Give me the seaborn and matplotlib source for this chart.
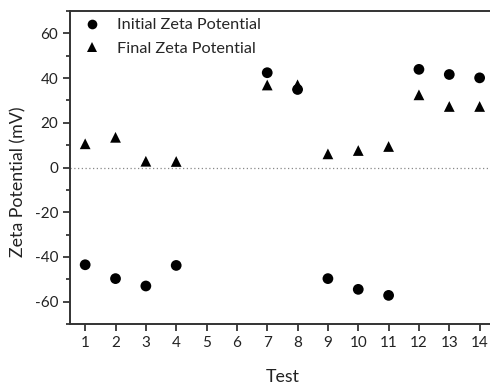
import numpy as np
import pandas as pd
import matplotlib
matplotlib.use("Agg")
import matplotlib.pyplot as plt
import seaborn as sns
from matplotlib.ticker import MultipleLocator

tests_initial = [1, 2, 3, 4, 7, 8, 9, 10, 11, 12, 13, 14]
initial_zeta = [-43.5, -49.7, -53.0, -43.8, 42.4, 34.9, -49.7, -54.5, -57.2, 43.9, 41.6, 40.1]
tests_final = [1, 2, 3, 4, 7, 8, 9, 10, 11, 12, 13, 14]
final_zeta = [10.6, 13.5, 2.8, 2.7, 36.9, 37.0, 6.1, 7.6, 9.4, 32.5, 27.3, 27.3]
series_names = ["Initial Zeta Potential", "Final Zeta Potential"]
x_ticks = list(range(1, 15))

df = pd.concat([
    pd.DataFrame({"Test": tests_initial, "Zeta": initial_zeta, "Series": series_names[0]}),
    pd.DataFrame({"Test": tests_final, "Zeta": final_zeta, "Series": series_names[1]}),
], ignore_index=True)

sns.set_theme(style="ticks")
plt.rcParams['font.family'] = ['Lato', 'DejaVu Sans']
plt.rcParams['axes.unicode_minus'] = False

fig = plt.figure(figsize=(4.90, 3.84), dpi=100)
ax = fig.add_axes([70/490, 1-324/384, (494.8-70)/490, (324-11)/384])

ax.axhline(0, color="#888888", linestyle=(0, (1, 2)), linewidth=0.9, zorder=1)

sns.scatterplot(data=df, x="Test", y="Zeta", style="Series", hue="Series",
                palette={series_names[0]: "black", series_names[1]: "black"},
                markers={series_names[0]: "o", series_names[1]: "^"},
                s=60, edgecolor="black", linewidth=0, ax=ax, zorder=3)

ax.set_xlim(0.5, 14.5)
ax.set_ylim(-70, 70)
ax.set_xticks(x_ticks)
ax.yaxis.set_major_locator(MultipleLocator(20))
ax.yaxis.set_minor_locator(MultipleLocator(10))
ax.tick_params(axis="both", which="major", direction="out", length=5, width=1.2,
               labelsize=11, colors="#222222")
ax.tick_params(axis="y", which="minor", direction="out", length=3, width=1.2)
for sp in ax.spines.values():
    sp.set_visible(True)
    sp.set_linewidth(1.4)
    sp.set_color("#333333")

ax.set_xlabel("Test", fontsize=12.8, color="#222222")
ax.set_ylabel("Zeta Potential (mV)", fontsize=12.8, color="#222222")
ax.xaxis.set_label_coords((283-70)/(494.8-70), -(377-324)/313, transform=ax.transAxes)
ax.xaxis.label.set_verticalalignment("center")
ax.yaxis.set_label_coords(-(70-18)/(494.8-70), (324-182)/313, transform=ax.transAxes)
ax.yaxis.label.set_verticalalignment("center")

leg = ax.legend(loc="upper left", frameon=False, fontsize=11.7, handletextpad=0.95,
                borderaxespad=0.0, borderpad=0.0, labelspacing=0.55, markerscale=0.9,
                handlelength=1.2,
                bbox_to_anchor=(12/(494.8-70), 1-7/313))

fig.savefig("out.png", dpi=100)
